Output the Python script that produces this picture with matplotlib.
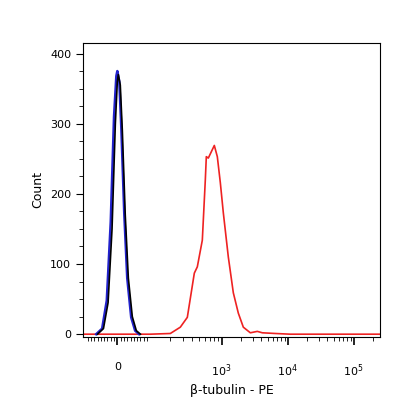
import matplotlib
matplotlib.use("Agg")
import matplotlib.pyplot as plt
import numpy as np

# x values in display units (0 = value 0, decades spaced ~1 unit)
black_x = [-0.30,-0.21,-0.14,-0.08,-0.03,0.0,0.015,0.045,0.076,0.12,0.167,0.227,0.288,0.35]
black_y = [0,8,45,150,300,360,370,355,290,170,80,25,5,0]
blue_x  = [-0.32,-0.23,-0.16,-0.10,-0.05,-0.015,0.0,0.03,0.06,0.105,0.15,0.21,0.27,0.33]
blue_y  = [0,8,48,160,310,368,375,360,295,172,80,24,5,0]
red_px  = [84,150,170,180,187,194,197,202,205,206,208,212,214,217,220,223,228,233,238,243,250,257,262,275,290,380]
red_y   = [0,0,1,10,24,87,96,134,220,253,251,263,269,253,216,173,110,59,30,10,2,4,2,1,0,0]
red_x   = [(p-117)/66 for p in red_px]

fig = plt.figure(figsize=(4.16,4.16), dpi=100)
ax = fig.add_axes([83/416, 1-337/416, 297/416, 294/416])
ax.plot(red_x, red_y, color="#ee2222", lw=1.2)
ax.plot(blue_x, blue_y, color="#2222cc", lw=1.8)
ax.plot(black_x, black_y, color="black", lw=1.2)
ax.set_xlim(-0.52, 3.98)
ax.set_ylim(-4, 415)
ax.set_yticks([0,100,200,300,400])
ax.set_yticks(np.arange(0,420,25), minor=True)
ax.set_xticks([0, 1.58, 2.58, 3.58])
ax.set_xticklabels(["0", "$10^3$", "$10^4$", "$10^5$"], fontsize=8)
minor = list(np.arange(-0.45,0.5,0.05)) + [0.47+0.66*np.log10(k)*0+ (1.58-1.1)*0 for k in []]
for d0 in [0.47, 1.58, 2.58]:
    for k in range(2,10):
        minor.append(d0 + (1.1 if d0==0.47 else 1.0)*np.log10(k))
for k in range(2,10):
    minor.append(3.58+np.log10(k))
ax.set_xticks([m for m in minor if m < 3.98], minor=True)
ax.tick_params(axis="x", which="major", length=6, width=1.2, pad=12)
ax.tick_params(axis="x", which="minor", length=3)
ax.tick_params(axis="y", labelsize=8, length=5)
ax.tick_params(axis="y", which="minor", length=3)
ax.set_xlabel("β-tubulin - PE", fontsize=9)
ax.set_ylabel("Count", fontsize=9)
fig.savefig("out.png", dpi=100)
